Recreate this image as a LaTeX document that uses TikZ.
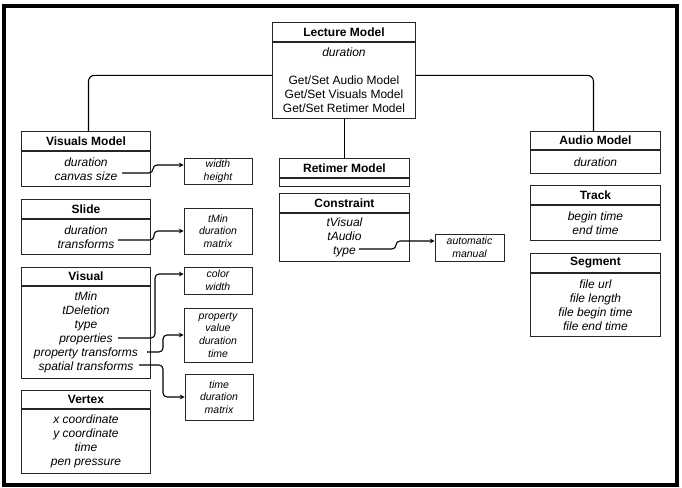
\documentclass[tikz,border=0pt]{standalone}
\usepackage{fontspec}
\setmainfont{Liberation Sans}
\usetikzlibrary{calc}

\begin{document}
\begin{tikzpicture}[x=1pt, y=-1pt, >=stealth, line width=0.9pt,
	testa/.style={draw=black!85, font=\fontsize{12}{14}\selectfont\bfseries,
		inner sep=0pt, minimum height=19pt, anchor=north west},
	corpo/.style={draw=black!85, font=\fontsize{12}{14}\selectfont\itshape,
		align=center, inner sep=0pt, anchor=north},
	dett/.style={draw=black!85, font=\fontsize{10.5}{12.7}\selectfont\itshape,
		align=center, inner sep=0pt},
	coll/.style={line width=1.1pt, rounded corners=6pt},
	freccia/.style={->, line width=1.1pt, rounded corners=4pt},
	]
	
	\def\wL{143pt}  % larghezza Lecture Model
	\def\wS{129pt}  % larghezza colonna sinistra
	\def\wC{130pt}  % larghezza colonna centrale / destra
	\def\wD{68pt}   % larghezza riquadri di dettaglio
	
	\useasboundingbox (0,0) rectangle (682,487);
	
	%% ── Cornice ──────────────────────────────────────────────────────────────
	\draw[line width=4pt] (4,6) rectangle (677,485);
	
	%% ── Lecture Model ────────────────────────────────────────────────────────
	\node[testa, minimum width=\wL] (lm) at (272,22) {Lecture Model};
	\node[corpo, minimum width=\wL, minimum height=76pt,
		font=\fontsize{12}{14}\selectfont] (lmc) at (lm.south)
		{\textit{duration}\\[14pt]Get/Set Audio Model\\Get/Set Visuals Model\\Get/Set Retimer Model};
	
	%% ── Colonna sinistra ─────────────────────────────────────────────────────
	\node[testa, minimum width=\wS] (vm) at (21,131) {Visuals Model};
	\node[corpo, minimum width=\wS, minimum height=35pt] (vmc) at (vm.south)
		{duration\\canvas size};
	
	\node[testa, minimum width=\wS] (sl) at (21,199) {Slide};
	\node[corpo, minimum width=\wS, minimum height=35pt] (slc) at (sl.south)
		{duration\\transforms};
	
	\node[testa, minimum width=\wS, minimum height=18pt] (vi) at (21,267) {Visual};
	\node[corpo, minimum width=\wS, minimum height=92pt] (vic) at (vi.south)
		{tMin\\tDeletion\\type\\properties\\property transforms\\spatial transforms};
	
	\node[testa, minimum width=\wS, minimum height=18pt] (vx) at (21,390) {Vertex};
	\node[corpo, minimum width=\wS, minimum height=64pt] (vxc) at (vx.south)
		{x coordinate\\y coordinate\\time\\pen pressure};
	
	%% ── Riquadri di dettaglio ────────────────────────────────────────────────
	\node[dett, minimum width=\wD, minimum height=26pt] (wh) at (218,171) {width\\height};
	\node[dett, minimum width=\wD, minimum height=46pt] (tm) at (218,231) {tMin\\duration\\matrix};
	\node[dett, minimum width=\wD, minimum height=27pt] (cw) at (218,280.5) {color\\width};
	\node[dett, minimum width=\wD, minimum height=54pt] (pv) at (218,335) {property\\value\\duration\\time};
	\node[dett, minimum width=\wD, minimum height=46pt] (td) at (219,397) {time\\duration\\matrix};
	\node[dett, minimum width=69pt, minimum height=27pt] (am) at (469.5,247.5) {automatic\\manual};
	
	%% ── Colonna centrale ─────────────────────────────────────────────────────
	\node[testa, minimum width=\wC] (rt) at (279,158) {Retimer Model};
	\node[corpo, minimum width=\wC, minimum height=8pt] (rtc) at (rt.south) {};
	
	\node[testa, minimum width=\wC] (co) at (279,193) {Constraint};
	\node[corpo, minimum width=\wC, minimum height=48pt] (coc) at (co.south)
		{tVisual\\tAudio\\type};
	
	%% ── Colonna destra ───────────────────────────────────────────────────────
	\node[testa, minimum width=\wC, minimum height=18pt] (au) at (530,131) {Audio Model};
	\node[corpo, minimum width=\wC, minimum height=23pt] (auc) at (au.south) {duration};
	
	\node[testa, minimum width=\wC] (tr) at (530,185) {Track};
	\node[corpo, minimum width=\wC, minimum height=35pt] (trc) at (tr.south)
		{begin time\\end time};
	
	\node[testa, minimum width=\wC] (sg) at (530,253) {Segment};
	\node[corpo, minimum width=\wC, minimum height=63pt] (sgc) at (sg.south)
		{file url\\file length\\file begin time\\file end time};
	
	%% ── Collegamenti Lecture Model ───────────────────────────────────────────
	\draw[coll] ([yshift=5pt]lmc.west) -| ([xshift=2.5pt]vm.north);
	\draw[coll] ([yshift=5pt]lmc.east) -| ([xshift=-2pt]au.north);
	\draw[coll] (lmc.south -| rt.north) -- (rt.north);
	
	%% ── Frecce verso i dettagli ──────────────────────────────────────────────
	\coordinate (cs) at (122,173);   % canvas size
	\coordinate (tf) at (118,240);   % transforms
	\coordinate (pr) at (118,338);   % properties
	\coordinate (pt) at (147,352);   % property transforms
	\coordinate (st) at (139,365);   % spatial transforms
	\coordinate (ty) at (359,249);   % type
	
	\draw[freccia] (cs) -- (153,173) |- ([yshift=6pt]wh.west);
	\draw[freccia] (tf) -- (154,240) |- (tm.west);
	\draw[freccia] (pr) -- (155,338) |- ([yshift=6.5pt]cw.west);
	\draw[freccia] (pt) -- (163,352) |- (pv.west);
	\draw[freccia] (st) -- (163,365) |- (td.west);
	\draw[freccia] (ty) -- (396,249) |- ([yshift=6.5pt]am.west);
	
\end{tikzpicture}
\end{document}
